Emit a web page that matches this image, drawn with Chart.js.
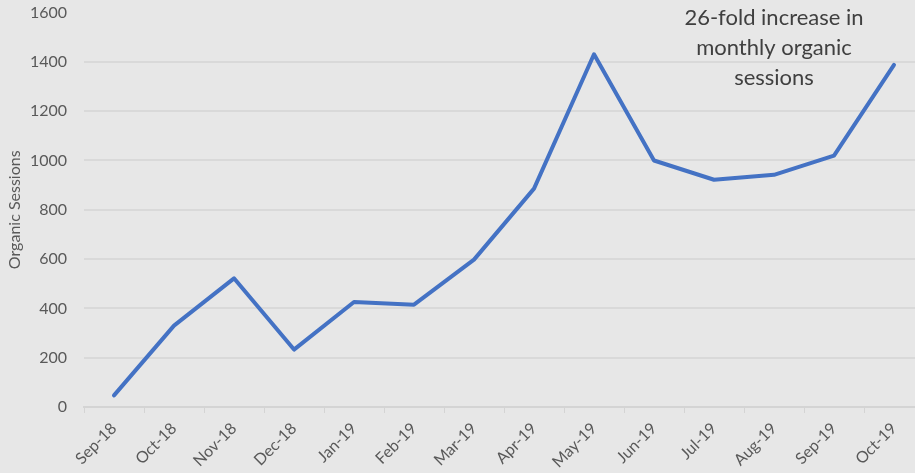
<!DOCTYPE html>
<html>
<head>
<meta charset="utf-8">
<script src="https://cdn.jsdelivr.net/npm/chart.js@4/dist/chart.umd.min.js"></script>
<style>
  html, body { margin: 0; padding: 0; background: #e7e7e7; overflow: hidden; }
  #wrap { width: 940px; height: 473px; position: relative; }
</style>
</head>
<body>
<div id="wrap"><canvas id="c" width="940" height="473"></canvas></div>
<script>
const categories = ["Sep-18","Oct-18","Nov-18","Dec-18","Jan-19","Feb-19","Mar-19","Apr-19","May-19","Jun-19","Jul-19","Aug-19","Sep-19","Oct-19"];
const organicSessions = [47, 330, 522, 233, 426, 415, 598, 886, 1431, 1000, 922, 942, 1020, 1388];
const yTicks = [0, 200, 400, 600, 800, 1000, 1200, 1400, 1600];
const annotationLines = ["26-fold increase in", "monthly organic", "sessions"];

const annotationPlugin = {
  id: 'annotationText',
  afterDraw(chart) {
    const ctx = chart.ctx;
    const xs = chart.scales.x;
    const cx = xs.getPixelForValue(11);
    const top = chart.chartArea.top;
    ctx.save();
    ctx.fillStyle = '#404040';
    ctx.font = '22px Lato';
    ctx.textAlign = 'center';
    ctx.textBaseline = 'middle';
    annotationLines.forEach((t, i) => ctx.fillText(t, cx, top + 5 + i * 30));
    ctx.restore();
  }
};

new Chart(document.getElementById('c'), {
  type: 'line',
  data: {
    labels: categories,
    datasets: [{
      data: organicSessions,
      borderColor: '#4472C4',
      borderWidth: 4,
      pointRadius: 0,
      borderCapStyle: 'round',
      borderJoinStyle: 'round',
      tension: 0,
      fill: false
    }]
  },
  options: {
    responsive: false,
    animation: false,
    devicePixelRatio: 1,
    layout: { padding: { top: 0, right: 16, bottom: 0, left: 0 } },
    plugins: { legend: { display: false }, tooltip: { enabled: false } },
    scales: {
      x: {
        offset: true,
        grid: { offset: true, drawOnChartArea: false, drawTicks: true, tickLength: 6, color: '#d4d4d4', lineWidth: 1 },
        border: { display: true, color: '#d4d4d4', width: 2 },
        ticks: { color: '#595959', font: { family: 'Lato', size: 16 }, maxRotation: 45, minRotation: 45, autoSkip: false, padding: 6 },
        afterFit(scale) { scale.height = 66; }
      },
      y: {
        min: 0, max: 1600,
        afterBuildTicks(scale) { scale.ticks = yTicks.map(v => ({ value: v })); },
        grid: {
          drawTicks: true,
          tickLength: 14,
          tickColor: 'rgba(0,0,0,0)',
          color: (c) => (c.tick && c.tick.value === 1600) ? 'rgba(0,0,0,0)' : '#d9d9d9',
          lineWidth: 2
        },
        border: { display: false },
        ticks: { color: '#595959', font: { family: 'Lato', size: 16 }, padding: 3, callback: (v) => String(v) },
        title: { display: true, text: 'Organic Sessions', color: '#595959', font: { family: 'Lato', size: 16 }, padding: { top: 5, bottom: 0 } },
        afterFit(scale) { scale.width = 84; }
      }
    }
  },
  plugins: [annotationPlugin]
});
</script>
</body>
</html>
